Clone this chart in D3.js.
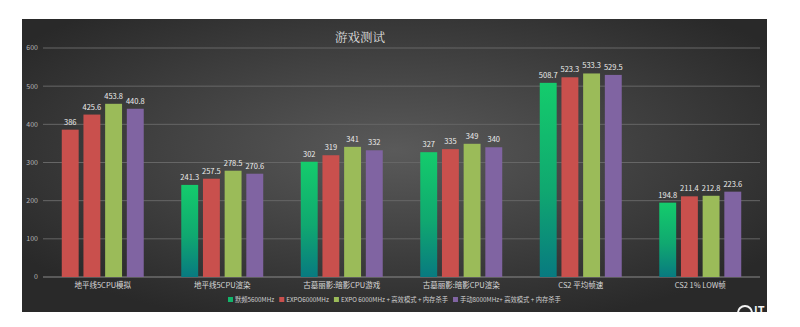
<!DOCTYPE html>
<html>
<head>
<meta charset="utf-8">
<script src="https://cdn.jsdelivr.net/npm/d3@7"></script>
<style>
  body { margin: 0; background: #fff; }
  svg { display: block; font-family: "Noto Sans CJK SC", "Noto Sans", sans-serif; }
</style>
</head>
<body>
<div id="chart"></div>
<script>
'use strict';

const categories = ['地平线5CPU模拟', '地平线5CPU渲染', '古墓丽影:暗影CPU游戏', '古墓丽影:暗影CPU渲染', 'CS2 平均帧速', 'CS2 1% LOW帧'];
const seriesNames = ['默频5600MHz', 'EXPO6000MHz', 'EXPO 6000MHz + 高效模式 + 内存杀手', '手动8000MHz+ 高效模式 + 内存杀手'];
const stock5600 = [386, 241.3, 302, 327, 508.7, 194.8];
const expo6000 = [425.6, 257.5, 319, 335, 523.3, 211.4];
const expoTuned = [453.8, 278.5, 341, 349, 533.3, 212.8];
const manual8000 = [440.8, 270.6, 332, 340, 529.5, 223.6];
const yTicks = [0, 100, 200, 300, 400, 500, 600];

const seriesValues = [stock5600, expo6000, expoTuned, manual8000];
const seriesFill = ['url(#greenGrad)', '#c9504d', '#9bbb59', '#8064a2'];
const legendColor = ['#12b56a', '#c9504d', '#9bbb59', '#8064a2'];

const width = 800, height = 327;
const panel = {x: 22, y: 19, w: 745, h: 293};

const svg = d3.select('#chart').append('svg')
    .attr('width', width)
    .attr('height', height);

const defs = svg.append('defs');

// dark panel, lighter in the middle
const bg = defs.append('radialGradient')
    .attr('id', 'bgGrad')
    .attr('cx', '0.5').attr('cy', '0.45').attr('r', '0.62');
bg.append('stop').attr('offset', '0%').attr('stop-color', '#5a5a5a');
bg.append('stop').attr('offset', '100%').attr('stop-color', '#292929');

const green = defs.append('linearGradient')
    .attr('id', 'greenGrad')
    .attr('x1', 0).attr('y1', 0).attr('x2', 0).attr('y2', 1);
green.append('stop').attr('offset', '0%').attr('stop-color', '#14cc6c');
green.append('stop').attr('offset', '55%').attr('stop-color', '#10a870');
green.append('stop').attr('offset', '100%').attr('stop-color', '#087a80');

defs.append('clipPath').attr('id', 'panelClip')
  .append('rect')
    .attr('x', panel.x).attr('y', panel.y)
    .attr('width', panel.w).attr('height', panel.h);

svg.append('rect')
    .attr('x', panel.x).attr('y', panel.y)
    .attr('width', panel.w).attr('height', panel.h)
    .attr('fill', 'url(#bgGrad)');

// scales
const x0 = d3.scaleBand()
    .domain(categories)
    .range([43, 760])
    .paddingInner(0.314)
    .paddingOuter(0.157);

const x1 = d3.scaleBand()
    .domain(d3.range(seriesNames.length))
    .range([0, x0.bandwidth()])
    .paddingInner(0.22);

const y = d3.scaleLinear()
    .domain([0, 600])
    .range([277, 48]);

// gridlines
svg.append('g')
  .selectAll('line')
  .data(yTicks)
  .join('line')
    .attr('x1', 43).attr('x2', 760)
    .attr('y1', d => y(d)).attr('y2', d => y(d))
    .attr('stroke', d => d === 0 ? '#8a8a8a' : '#666')
    .attr('stroke-width', 1);

// y axis labels
svg.append('g')
  .selectAll('text')
  .data(yTicks)
  .join('text')
    .attr('x', 38)
    .attr('y', d => y(d))
    .attr('dy', '0.35em')
    .attr('text-anchor', 'end')
    .attr('fill', '#b5b5b5')
    .attr('font-size', 7)
    .text(d => d);

// bars
const groups = svg.append('g')
  .selectAll('g')
  .data(categories)
  .join('g')
    .attr('transform', d => `translate(${x0(d)},0)`);

const bars = groups.selectAll('g')
  .data((c, ci) => seriesValues.map((vals, si) => ({si, ci, v: vals[ci]})))
  .join('g');

bars.append('rect')
    .attr('x', d => x1(d.si))
    .attr('y', d => y(d.v))
    .attr('width', x1.bandwidth())
    .attr('height', d => y(0) - y(d.v))
    // the first bar in the reference is drawn red
    .attr('fill', d => (d.ci === 0 && d.si === 0) ? '#c9504d' : seriesFill[d.si]);

bars.append('text')
    .attr('x', d => x1(d.si) + x1.bandwidth() / 2)
    .attr('y', d => y(d.v) - 5)
    .attr('text-anchor', 'middle')
    .attr('fill', '#ececec')
    .attr('font-size', 7.5)
    .text(d => d.v);

// category labels
svg.append('g')
  .selectAll('text')
  .data(categories)
  .join('text')
    .attr('x', d => x0(d) + x0.bandwidth() / 2)
    .attr('y', 288)
    .attr('text-anchor', 'middle')
    .attr('fill', '#d8d8d8')
    .attr('font-size', 7.5)
    .text(d => d);

// title
svg.append('text')
    .attr('x', 360)
    .attr('y', 42)
    .attr('text-anchor', 'middle')
    .attr('fill', '#dcdcdc')
    .attr('font-size', 12.5)
    .attr('font-family', '"Noto Serif CJK SC", "Noto Sans CJK SC", serif')
    .text('游戏测试');

// legend
const legend = svg.append('g').attr('transform', 'translate(228,300)');
let lx = 0;
seriesNames.forEach((name, i) => {
    const item = legend.append('g').attr('transform', `translate(${lx},0)`);
    item.append('rect')
        .attr('x', 0).attr('y', -3)
        .attr('width', 5).attr('height', 5)
        .attr('fill', legendColor[i]);
    const t = item.append('text')
        .attr('x', 7)
        .attr('y', 0)
        .attr('dy', '0.35em')
        .attr('fill', '#cfcfcf')
        .attr('font-size', 6.3)
        .text(name);
    lx += 7 + t.node().getComputedTextLength() + 5;
});

// watermark in the lower right corner
const mark = svg.append('g').attr('clip-path', 'url(#panelClip)');
mark.append('circle')
    .attr('cx', 745).attr('cy', 313).attr('r', 7)
    .attr('fill', 'none')
    .attr('stroke', '#f2f2f2')
    .attr('stroke-width', 2);
mark.append('text')
    .attr('x', 754).attr('y', 315)
    .attr('fill', '#f2f2f2')
    .attr('font-size', 11)
    .attr('font-weight', 'bold')
    .text('IT');
</script>
</body>
</html>
